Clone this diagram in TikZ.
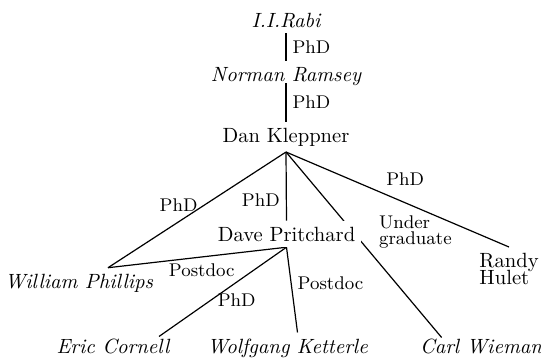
\documentclass[tikz,border=0pt]{standalone}
\usepackage{tikz}
\usetikzlibrary{positioning,backgrounds}
\tikzset{
  person/.style={inner sep=3pt, outer sep=0pt, font=\fontsize{10.3}{11}\selectfont},
  iperson/.style={person, font=\fontsize{10.3}{11}\selectfont\itshape},
  link/.style={line width=0.6pt},
  lbl/.style={font=\fontsize{9.2}{10}\selectfont, inner sep=3pt}
}

\begin{document}
\begin{tikzpicture}[x=0.5pt, y=-0.5pt]
\useasboundingbox (0,0) rectangle (541,361);
% people
\node[iperson, anchor=base] (rabi) at (286,27) {I.I.Rabi};
\node[iperson, anchor=base] (ramsey) at (286,81) {Norman Ramsey};
\node[person, anchor=base] (kleppner) at (286,142) {Dan Kleppner};
\node[person, anchor=base, fill=white] (pritchard) at (286.5,241) {Dave Pritchard};
\node[iperson, anchor=base] (phillips) at (79,288) {William Phillips};
\node[person, anchor=north, align=left] (hulet) at (509,247) {Randy\\[-2.25pt]Hulet};
\node[iperson, anchor=base] (cornell) at (113,353) {Eric Cornell};
\node[iperson, anchor=base] (ketterle) at (287.5,353) {Wolfgang Ketterle};
\node[iperson, anchor=base] (wieman) at (481,353) {Carl Wieman};
% links
\begin{scope}[on background layer]
\draw[link] (rabi.south) -- node[lbl, right]{PhD} (ramsey.north);
\draw[link] ([yshift=-1pt]ramsey.base) -- node[lbl, right]{PhD} (kleppner.north);
\draw[link] (kleppner.south) -- node[lbl, pos=0.46, left]{PhD} ([xshift=14.5pt]phillips.north);
\draw[link] (kleppner.south) -- node[lbl, pos=0.7, left]{PhD} (pritchard.north);
\draw[link] (kleppner.south) -- node[lbl, pos=0.556, above right, align=left]{Under\\[-2pt]graduate} ([xshift=-19.7pt, yshift=-2.5pt]wieman.north);
\draw[link] (kleppner.south) -- node[lbl, pos=0.42, above right]{PhD} (hulet.north);
\draw[link] (pritchard.south) -- node[lbl, pos=0.475, below]{Postdoc} ([xshift=14.5pt]phillips.north);
\draw[link] (pritchard.south) -- node[lbl, pos=0.59, right]{PhD} ([xshift=23pt, yshift=-2pt]cornell.north);
\draw[link] (pritchard.south) -- node[lbl, pos=0.42, right]{Postdoc} ([xshift=5pt]ketterle.north);
\end{scope}
\end{tikzpicture}
\end{document}
